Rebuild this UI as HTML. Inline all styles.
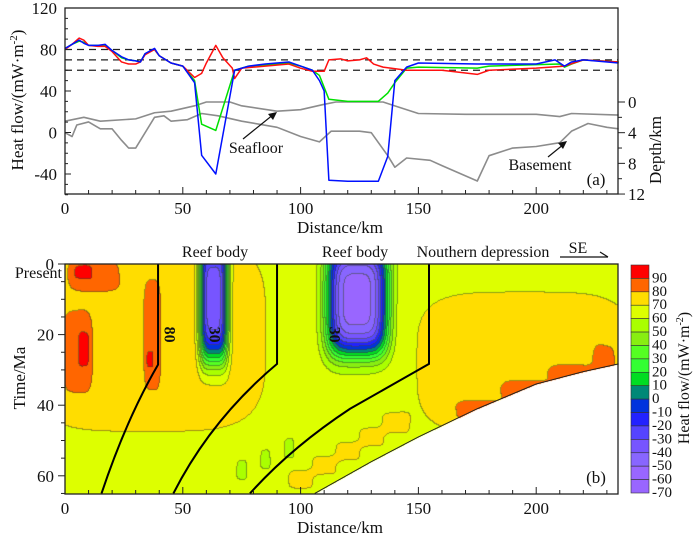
<!DOCTYPE html>
<html><head><meta charset="utf-8"><style>
html,body{margin:0;padding:0;background:#fff;}
#wrap{position:relative;width:700px;height:541px;overflow:hidden;font-family:"Liberation Serif",serif;}
canvas{position:absolute;left:65px;top:264px;}
svg{position:absolute;left:0;top:0;}
text{font-family:"Liberation Serif",serif;fill:#111;}
</style></head><body>
<div id="wrap">
<canvas id="hm" width="553" height="230"></canvas>
<svg id="svg" width="700" height="541"></svg>
</div>
<script>
// ---------- Panel (a) data ----------
const redX=[0,3,6,8,10,14,17,20,24,27,30,32,34,38,40,45,50,55,58,60,64,67,71,72,75,85,95,100,105,110,112,117,120,125,128,131,135,145,160,175,180,200,212,220,235];
const redY=[80,85,91,89,84,83,83,78,68,66,66,68,75,80,74,67,64,53,57,67,84,72,62,52,62,64,66,62,59,59,70,71,69,70,72,66,63,60,60,56,60,62,64,70,68];
const greenX=[0,3,6,8,10,14,17,20,24,27,30,32,34,38,40,45,50,55,58,64,72,78,85,95,100,105,108,112,120,130,133,137,140,145,150,175,180,210,212,215,220,235];
const greenY=[81,85,88,87,84,84,84,79,72,70,69,68,76,80,74,67,64,50,8,2,60,64,65,67,64,60,55,32,30,30,30,38,48,62,63,62,64,66,63,66,70,68];
const blueX=[0,3,6,8,10,14,17,20,24,27,30,32,34,38,40,45,50,55,58,64,72,78,85,95,100,105,108,110,112,120,133,137,140,145,150,175,200,208,212,215,220,235];
const blueY=[81,85,89,86,84,84,85,79,73,70,69,68,76,81,74,67,64,48,-22,-40,60,64,66,68,64,60,50,40,-46,-47,-47,-23,50,63,67,66,66,70,64,68,70,67];
const seaX=[0,8,15,30,38,45,55,60,70,75,90,100,110,115,130,135,140,150,170,200,210,215,235];
const seaD=[2.5,2.0,2.5,2.2,1.4,1.2,0.5,0,0,0.5,1.2,1.0,0.3,0,0,0,0.5,1.5,1.6,1.6,1.9,1.5,1.7];
const baseX=[0,3,5,10,15,20,24,27,30,38,42,45,52,58,65,75,90,100,108,113,125,130,137,140,145,155,160,175,180,190,200,210,215,222,230,235];
const baseD=[4.0,4.5,3.0,2.6,3.5,3.5,5.0,6.0,6.0,2.0,1.8,2.5,2.3,1.5,1.8,2.5,3.3,4.5,5.2,3.8,3.8,4.0,7.0,8.5,7.3,7.6,8.3,10.3,7.0,6.0,5.8,5.3,3.8,2.8,3.3,3.5];
const refLines=[80,70,60];
const hfTicks=[120,80,40,0,-40];
const depthTicks=[0,4,8,12];
const distTicks=[0,50,100,150,200];
// ---------- Panel (b) data ----------
const baseValue=65;
const blobX  =[35, 195, 12, 7, 5, 8,  37, 36,  63,  124, 229, 175, 195, 215, 100,110,120,130,140, 75, 85, 95];
const blobT  =[20, 28,  3,  2, 25,24, 20, 27,  10,  10,  30,  41.5, 36, 31.5, 61, 57, 53, 49, 45, 58, 55, 52];
const blobSX =[55, 50, 12,  5,  7,2.5, 4, 1.5,  6,   13,  6,   10,  10,  10,   6,  6,  6,  6,  6,  3,  3,  3];
const blobST =[30, 22,  5,2.5, 13, 5, 18, 2.5, 18,   16,  9,   3,   3,   3,    3,  3,  3,  3,  3,  4,  4,  4];
const blobAmp=[10, 10, 12,  8, 12,10, 10, 10, -110,-120, 10,  14,  14,  14,   8,  8,  8,  8,  8, -7, -7, -7];
const boundaryX=[106,130,150,175,200,220,235];
const boundaryT=[65,56,49,41,34,30.5,28.3];
const timeTicks=[0,20,40,60];
const cbLabels=[90,80,70,60,50,40,30,20,10,0,-10,-20,-30,-40,-50,-60,-70];
const cbColors=["#ff0000","#ff6600","#ffdd00","#ddff00","#aaff00","#88ee11","#55ff22","#33ff33","#00dd22","#008877","#0033dd","#2222ff","#5544ff","#7755ff","#8866ff","#9966ff","#9966ff"];

// ---------- scales ----------
const xs=k=>65+k*2.356;
const yh=v=>8+(120-v)*1.0375;
const yd=d=>102+d*7.67;
const yt=t=>264+t*3.53;

const NS="http://www.w3.org/2000/svg";
const svg=document.getElementById('svg');
function mk(tag,attrs,parent){const e=document.createElementNS(NS,tag);for(const k in attrs)e.setAttribute(k,attrs[k]);(parent||svg).appendChild(e);return e;}
function txt(s,x,y,size,anchor,parent){const e=mk('text',{x:x,y:y,'font-size':size,'text-anchor':anchor||'middle'},parent);e.textContent=s;return e;}

// ---------- heatmap ----------
function field(x,t){let v=baseValue;for(let i=0;i<blobX.length;i++){const dx=(x-blobX[i])/blobSX[i],dt=(t-blobT[i])/blobST[i];const s=dx*dx*dx*dx+dt*dt*dt*dt;if(s<30)v+=blobAmp[i]*Math.exp(-s);}return v;}
function bound(x){if(x<boundaryX[0])return 999;for(let i=1;i<boundaryX.length;i++){if(x<=boundaryX[i]){const f=(x-boundaryX[i-1])/(boundaryX[i]-boundaryX[i-1]);return boundaryT[i-1]+f*(boundaryT[i]-boundaryT[i-1]);}}return boundaryT[boundaryT.length-1];}
function binOf(v){let i=Math.floor((100-v)/10);return Math.max(0,Math.min(16,i));}
function hex(c){return [parseInt(c.substr(1,2),16),parseInt(c.substr(3,2),16),parseInt(c.substr(5,2),16)];}
(function(){
 const cv=document.getElementById('hm'),ctx=cv.getContext('2d');
 const W=cv.width,H=cv.height,img=ctx.createImageData(W,H);
 const bins=new Int16Array(W*H);const rgb=cbColors.map(hex);
 for(let py=0;py<H;py++){const t=py/3.53;for(let px=0;px<W;px++){const x=px/2.356;bins[py*W+px]=(t>bound(x))?-1:binOf(field(x,t));}}
 for(let py=0;py<H;py++)for(let px=0;px<W;px++){const i=py*W+px,b=bins[i];let c;
  if(b<0)c=[255,255,255];else{c=rgb[b];const r=px+1<W?bins[i+1]:b,d=py+1<H?bins[i+W]:b;if((r!==b&&r>=0)||(d!==b&&d>=0))c=[(c[0]+60)/2,(c[1]+70)/2,(c[2]+40)/2];}
  img.data[i*4]=c[0];img.data[i*4+1]=c[1];img.data[i*4+2]=c[2];img.data[i*4+3]=255;}
 ctx.putImageData(img,0,0);
})();

// ---------- panel (a) ----------
const ga=mk('g',{});
refLines.forEach(v=>{const l=mk('line',{x1:65,x2:618,y1:yh(v),y2:yh(v),stroke:'#222','stroke-width':1.3,'stroke-dasharray':'7,5'},ga);});
function poly(X,Y,fy,color,name,w){const p=mk('polyline',{points:X.map((x,i)=>xs(x)+','+fy(Y[i])).join(' '),fill:'none',stroke:color,'stroke-width':w||1.5,'stroke-linejoin':'round'},ga);}
poly(seaX,seaD,yd,'#8c8c8c','seafloor-line',1.6);
poly(baseX,baseD,yd,'#8c8c8c','basement-line',1.6);
poly(greenX,greenY,yh,'#00e000','heat-flow-green');
poly(redX,redY,yh,'#ff1010','heat-flow-red');
poly(blueX,blueY,yh,'#0010ff','heat-flow-blue');
mk('rect',{x:65,y:8,width:553,height:186,fill:'none',stroke:'#222','stroke-width':1.3},ga);
for(let v=-60;v<=120;v+=10){mk('line',{x1:65,x2:v%40===0?71:68,y1:yh(v),y2:yh(v),stroke:'#222'},ga);}
hfTicks.forEach(v=>txt(String(v),57,yh(v)+6,17,'end',ga));
for(let d=0;d<=12;d+=2){mk('line',{x1:618,x2:d%4===0?625:622,y1:yd(d),y2:yd(d),stroke:'#222'},ga);}
depthTicks.forEach(d=>txt(String(d),628,yd(d)+6,17,'start',ga));
for(let k=0;k<=230;k+=10){mk('line',{x1:xs(k),x2:xs(k),y1:194,y2:k%50===0?187:190,stroke:'#222'},ga);}
distTicks.forEach(k=>txt(String(k),xs(k),214,17,'middle',ga));
let t1=txt('Distance/km',340,233,17,'middle',ga);
let t2=txt('',0,0,17,'middle',ga);t2.setAttribute('transform','translate(23,100) rotate(-90)');t2.innerHTML='Heat flow/(mW·m<tspan dy="-6" font-size="11">-2</tspan><tspan dy="6">)</tspan>';
let t3=txt('Depth/km',0,0,17,'middle',ga);t3.setAttribute('transform','translate(661,150) rotate(-90)');
txt('Seafloor',256,153,16,'middle',ga);
mk('line',{x1:243,y1:139,x2:274,y2:114,stroke:'#111','stroke-width':1.2},ga);
mk('polygon',{points:'277,112 268,114 273,120',fill:'#111'},ga);
txt('Basement',540,170,16,'middle',ga);
mk('line',{x1:548,y1:157,x2:564,y2:144,stroke:'#111','stroke-width':1.2},ga);
mk('polygon',{points:'567,141 558,143 563,149',fill:'#111'},ga);
txt('(a)',596,185,17,'middle',ga);

// ---------- panel (b) ----------
const gb=mk('g',{});
function P(x,t){return xs(x)+','+yt(t);}
[['M'+P(39.5,0)+' L'+P(39.5,28.5)+' Q'+P(26,44)+' '+P(15.5,65),'reef-boundary-1'],
 ['M'+P(90,0)+' L'+P(90,28.3)+' Q'+P(62,44)+' '+P(46,65),'reef-boundary-2'],
 ['M'+P(154.5,0)+' L'+P(154.5,28.3)+' L'+P(121,41)+' Q'+P(96,52)+' '+P(78.5,65),'depression-boundary']].forEach(a=>{const p=mk('path',{d:a[0],fill:'none',stroke:'#000','stroke-width':2},gb);});
const bp=mk('polyline',{points:boundaryX.map((x,i)=>P(x,boundaryT[i])).join(' '),fill:'none',stroke:'#222','stroke-width':1},gb);
mk('rect',{x:65,y:264,width:553,height:230,fill:'none',stroke:'#222','stroke-width':1.3},gb);
for(let t=0;t<=65;t+=5){mk('line',{x1:65,x2:t%20===0?58:61,y1:yt(t),y2:yt(t),stroke:'#222'},gb);}
timeTicks.forEach(t=>txt(String(t),54,yt(t)+6,17,'end',gb));
txt('Present',62,278,16,'end',gb);
for(let k=0;k<=230;k+=10){mk('line',{x1:xs(k),x2:xs(k),y1:494,y2:k%50===0?487:490,stroke:'#222'},gb);}
distTicks.forEach(k=>txt(String(k),xs(k),514,17,'middle',gb));
let t4=txt('Distance/km',340,533,17,'middle',gb);
let t5=txt('Time/Ma',0,0,17,'middle',gb);t5.setAttribute('transform','translate(25,378) rotate(-90)');
[['80',41,20],['30',60,20],['30',111,20]].forEach(a=>{const e=txt(a[0],0,0,16,'middle',gb);e.setAttribute('font-weight','bold');e.setAttribute('transform','translate('+(xs(a[1])+3)+','+yt(a[2])+') rotate(90)');});
txt('Reef body',215,257,16,'middle',gb);
txt('Reef body',355,257,16,'middle',gb);
txt('Nouthern depression',483,257,16,'middle',gb);
txt('SE',578,253,16,'middle',gb);
mk('line',{x1:560,y1:257,x2:608,y2:257,stroke:'#111','stroke-width':1.2},gb);
mk('line',{x1:600,y1:252,x2:608,y2:257,stroke:'#111','stroke-width':1.2},gb);
txt('(b)',596,483,17,'middle',gb);

// ---------- colorbar ----------
const gc=mk('g',{});
const bh=(493-265)/cbColors.length;
cbColors.forEach((c,i)=>{const r=mk('rect',{x:631,y:265+i*bh,width:18,height:bh,fill:c,stroke:'#333','stroke-width':0.6},gc);});
cbLabels.forEach((v,i)=>txt(String(v),652,265+(i+1)*bh+4,15,'start',gc));
let t6=txt('',0,0,16,'middle',gc);t6.setAttribute('transform','translate(689,378) rotate(-90)');t6.innerHTML='Heat flow/(mW·m<tspan dy="-6" font-size="10">-2</tspan><tspan dy="6">)</tspan>';
</script>
</body></html>
